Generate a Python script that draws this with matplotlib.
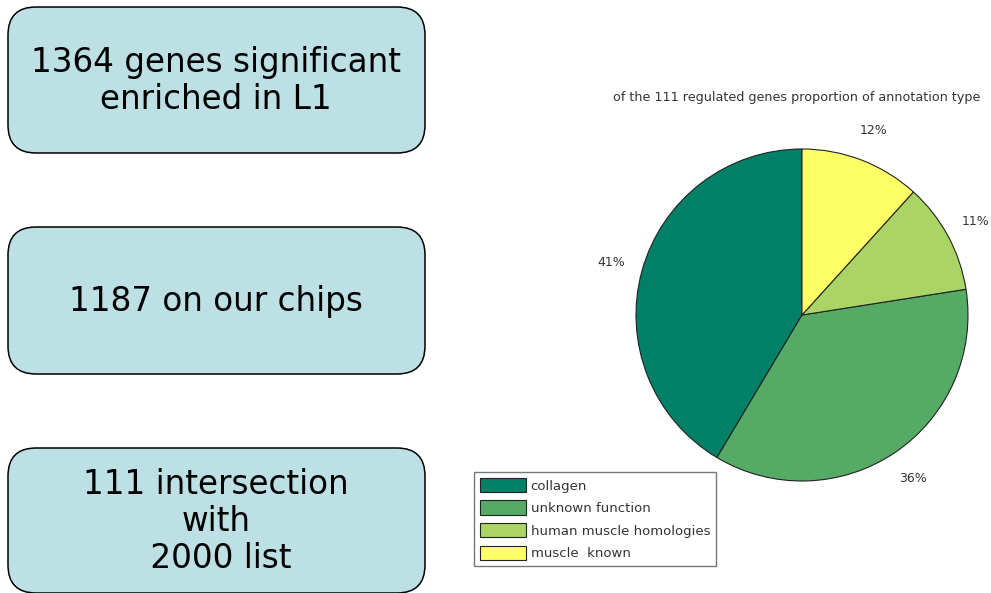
import matplotlib
matplotlib.use("Agg")
import matplotlib.pyplot as plt
from matplotlib.patches import FancyBboxPatch

# step boxes on the left
box_texts = ["1364 genes significant\nenriched in L1",
             "1187 on our chips",
             "111 intersection\nwith\n 2000 list"]
box_tops = [7, 227, 448]
box_heights = [146, 147, 145]

# pie data (counts out of 111 genes)
categories = ["collagen", "unknown function", "human muscle homologies", "muscle  known"]
counts = [46, 40, 12, 13]
colors = ["#008066", "#55aa66", "#aad466", "#ffff66"]
title = "of the 111 regulated genes proportion of annotation type"

W, H = 991, 593
fig = plt.figure(figsize=(W / 100, H / 100), dpi=100)
fig.patch.set_facecolor("white")

# pixel-space axes for the boxes
bg = fig.add_axes([0, 0, 1, 1])
bg.set_xlim(0, W)
bg.set_ylim(H, 0)
bg.axis("off")

for txt, top, h in zip(box_texts, box_tops, box_heights):
    bg.add_patch(FancyBboxPatch((8, top), 417, h,
                                boxstyle="round,pad=0,rounding_size=28",
                                facecolor="#bce0e3", edgecolor="black", linewidth=1.1))
    bg.text(216, top + h / 2 + 1, txt, ha="center", va="center", fontsize=23.5,
            family="DejaVu Sans", linespacing=1.17, color="black")

# pie
r_px = 166
lim = 1.2
cx, cy = 802, 315
aw = 2 * r_px * lim
ax = fig.add_axes([(cx - aw / 2) / W, (H - cy - aw / 2) / H, aw / W, aw / H])
small = ["DejaVu Sans"]
wedges, texts = ax.pie(counts, colors=colors, startangle=90, counterclock=True,
                       labels=[f"{round(100 * c / sum(counts))}%" for c in counts],
                       labeldistance=1.19,
                       wedgeprops=dict(edgecolor="#222222", linewidth=0.8),
                       textprops=dict(fontsize=9, color="#333333", family=small))
for t in texts:
    t.set_ha("center")
    t.set_va("center")
ax.set_xlim(-lim, lim)
ax.set_ylim(-lim, lim)
ax.set_aspect("equal")
ax.axis("off")

fig.text(797 / W, 1 - 97 / H, title, ha="center", va="center", fontsize=9.2,
         color="#333333", family=small)

leg = fig.legend(wedges, categories, loc="upper left",
                 bbox_to_anchor=(474 / W, 1 - 472 / H), bbox_transform=fig.transFigure,
                 fancybox=False, frameon=True,
                 prop=dict(family=small, size=9.5),
                 handlelength=3.5, handleheight=1.3, handletextpad=0.35,
                 labelspacing=0.6, borderpad=0.45, borderaxespad=0)
leg.get_frame().set_edgecolor("#555555")
leg.get_frame().set_linewidth(1.0)
for t in leg.get_texts():
    t.set_color("#333333")

fig.savefig("out.png", dpi=100)
